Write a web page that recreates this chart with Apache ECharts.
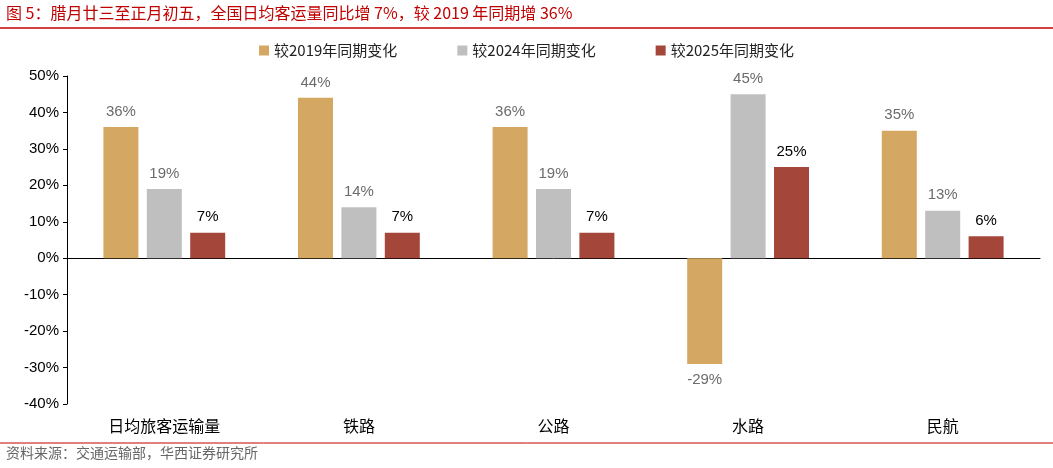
<!DOCTYPE html>
<html><head><meta charset="utf-8">
<script src="https://cdn.jsdelivr.net/npm/echarts@6/dist/echarts.min.js"></script>
<style>html,body{margin:0;padding:0;background:#fff}#c{width:1053px;height:468px}</style>
</head><body><div id="c"></div>
<script>
const categories = ['日均旅客运输量', '铁路', '公路', '水路', '民航'];
const vs2019 = [36, 44, 36, -29, 35];
const vs2024 = [19, 14, 19, 45, 13];
const vs2025 = [7, 7, 7, 25, 6];
const seriesNames = ['较2019年同期变化', '较2024年同期变化', '较2025年同期变化'];

const chart = echarts.init(document.getElementById('c'));
const font = '"Noto Sans CJK SC", Arial, sans-serif';
const lbl = (color) => ({
  show: true, position: 'outside', distance: 8, color: color, fontSize: 15, fontFamily: 'Arial',
  formatter: p => p.value + '%'
});
function bar(name, data, color, labelColor) {
  return {
    name, type: 'bar', data, barWidth: 35, barGap: '24%',
    itemStyle: { color }, label: Object.assign(lbl(labelColor), { position: 'top' }),
    labelLayout: p => null
  };
}
const s1 = bar(seriesNames[0], vs2019, '#d4a862', '#6b6b6b');
s1.data = vs2019.map(v => v < 0 ? { value: v, label: { position: 'bottom' } } : v);
chart.setOption({
  animation: false,
  textStyle: { fontFamily: font },
  graphic: [
    { type: 'text', left: 6, top: 5, style: { text: '图 5：腊月廿三至正月初五，全国日均客运量同比增 7%，较 2019 年同期增 36%', fill: '#c00000', font: '16px "Noto Sans CJK SC"' } },
    { type: 'line', shape: { x1: 0, y1: 28, x2: 1053, y2: 28 }, style: { stroke: '#c00000', lineWidth: 1.5 } },
    { type: 'line', shape: { x1: 0, y1: 443, x2: 1053, y2: 443 }, style: { stroke: '#c00000', lineWidth: 1 } },
    { type: 'text', left: 6, top: 446, style: { text: '资料来源：交通运输部，华西证券研究所', fill: '#666', font: '14px "Noto Sans CJK SC"' } }
  ],
  legend: {
    top: 38, left: 'center', itemGap: 60, itemWidth: 10, itemHeight: 10, icon: 'rect',
    textStyle: { fontSize: 15, color: '#222', fontFamily: font }
  },
  grid: { left: 67, right: 13, top: 76, bottom: 64 },
  xAxis: [
    { type: 'category', data: categories, axisLine: { onZero: true, lineStyle: { color: '#000' } },
      axisTick: { show: false }, axisLabel: { show: false } },
    { type: 'category', data: categories, position: 'bottom', axisLine: { show: false, onZero: false },
      axisTick: { show: false }, axisLabel: { color: '#000', fontSize: 16, margin: 14, fontFamily: font } }
  ],
  yAxis: {
    type: 'value', min: -40, max: 50, interval: 10,
    axisLine: { show: true, lineStyle: { color: '#000' } },
    axisTick: { show: true, inside: false, length: 4 },
    splitLine: { show: false },
    axisLabel: { formatter: '{value}%', color: '#000', fontSize: 15, fontFamily: 'Arial' }
  },
  series: [
    s1,
    bar(seriesNames[1], vs2024, '#bfbfbf', '#6b6b6b'),
    bar(seriesNames[2], vs2025, '#a5463a', '#000')
  ]
});
</script></body></html>
